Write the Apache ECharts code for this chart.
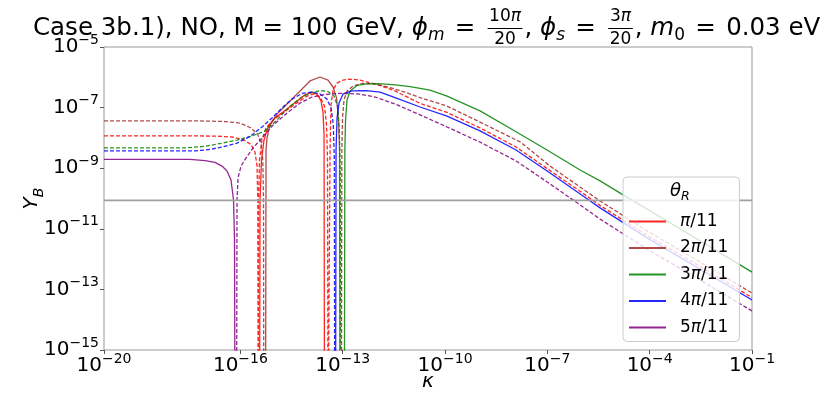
<!DOCTYPE html>
<html>
<head>
<meta charset="utf-8">
<title>Y_B vs kappa</title>
<script src="https://cdn.jsdelivr.net/npm/echarts@6.0.0/dist/echarts.min.js"></script>
<style>
  html, body { margin: 0; padding: 0; background: #fff; }
  #chart { width: 831px; height: 394px; }
</style>
</head>
<body>
<div id="chart"></div>
<script>
// values, stored as [log10(kappa), log10(Y_B)]
// a point at -18 is where the curve crosses zero (falls off the bottom)
var thetaNames = ['π/11', '2π/11', '3π/11', '4π/11', '5π/11'];
var colors = ['#ff0000', '#a52a2a', '#008000', '#0000ff', '#800080'];
var xTicks = [1e-20, 1e-16, 1e-13, 1e-10, 1e-7, 1e-4, 1e-1];
var yTicks = [1e-15, 1e-13, 1e-11, 1e-9, 1e-7, 1e-5];
var yObserved = 8.7e-11;

var redSolid = [[-15.44,-18],[-15.425,-10.05],[-15.381,-8.73],[-15.308,-8.07],[-15.191,-7.64],[-14.985,-7.34],[-14.633,-7.05],[-14.34,-6.78],[-14.106,-6.58],[-13.90,-6.50],[-13.754,-6.55],[-13.636,-6.78],[-13.578,-7.15],[-13.548,-7.90],[-13.534,-18]];
var brownSolid = [[-15.264,-18],[-15.249,-8.40],[-15.22,-8.00],[-15.132,-7.57],[-14.927,-7.21],[-14.633,-6.88],[-14.252,-6.45],[-13.959,-6.12],[-13.666,-5.99],[-13.431,-6.09],[-13.284,-6.32],[-13.182,-6.68],[-13.123,-7.41],[-13.094,-8.40],[-13.079,-18]];
var greenSolid = [[-12.953,-18],[-12.938,-8.40],[-12.918,-7.41],[-12.874,-6.75],[-12.786,-6.45],[-12.581,-6.27],[-12.287,-6.22],[-11.994,-6.21],[-11.525,-6.24],[-11.026,-6.31],[-10.44,-6.42],[-9.941,-6.62],[-8.974,-7.11],[-8.006,-7.74],[-7.009,-8.40],[-6.041,-9.06],[-5.455,-9.42],[-4.78,-9.88],[-3.988,-10.41],[-2.522,-11.40],[-1.0,-12.43]];
var blueSolid = [[-13.211,-18],[-13.196,-8.40],[-13.167,-7.34],[-13.109,-6.85],[-12.991,-6.55],[-12.727,-6.45],[-12.317,-6.44],[-11.906,-6.49],[-11.466,-6.67],[-10.733,-6.98],[-9.941,-7.28],[-8.974,-7.77],[-7.918,-8.40],[-6.921,-9.16],[-5.953,-9.92],[-5.455,-10.31],[-4.076,-11.30],[-2.522,-12.33],[-1.0,-13.35]];
var purpleSolid = [[-20,-8.71],[-18.651,-8.71],[-17.478,-8.71],[-17.038,-8.75],[-16.745,-8.81],[-16.54,-8.93],[-16.393,-9.09],[-16.276,-9.39],[-16.202,-10.05],[-16.173,-11.37],[-16.158,-18]];

var redDashed = [[-20,-7.93],[-17.771,-7.93],[-16.745,-7.94],[-16.246,-7.97],[-15.894,-8.07],[-15.689,-8.22],[-15.572,-8.47],[-15.513,-8.93],[-15.49,-10.05],[-15.478,-18],
  [-15.466,-10.05],[-15.44,-8.73],[-15.367,-8.07],[-15.249,-7.67],[-15.015,-7.38],[-14.633,-7.08],[-14.311,-6.82],[-14.047,-6.62],[-13.842,-6.55],[-13.666,-6.65],[-13.534,-6.95],[-13.475,-7.57],[-13.446,-8.73],[-13.431,-18],
  [-13.387,-18],[-13.372,-8.40],[-13.343,-6.91],[-13.284,-6.42],[-13.167,-6.19],[-12.991,-6.09],[-12.786,-6.06],[-12.493,-6.09],[-11.994,-6.24],[-11.466,-6.45],[-10.733,-6.86],[-9.941,-7.16],[-8.974,-7.67],[-7.918,-8.30],[-6.921,-9.08],[-5.953,-9.83],[-5.455,-10.23],[-4.076,-11.22],[-2.522,-12.24],[-1.0,-13.27]];
var brownDashed = [[-20,-7.44],[-17.185,-7.44],[-16.452,-7.46],[-16.012,-7.51],[-15.689,-7.67],[-15.499,-7.87],[-15.396,-8.17],[-15.343,-8.73],[-15.323,-10.05],[-15.314,-18],
  null,
  [-13.041,-18],[-13.026,-8.40],[-13.006,-7.34],[-12.962,-6.75],[-12.874,-6.45],[-12.698,-6.29],[-12.434,-6.20],[-12.053,-6.22],[-11.613,-6.34],[-11.173,-6.49],[-10.733,-6.67],[-9.941,-6.95],[-8.974,-7.48],[-7.801,-8.13],[-6.921,-8.93],[-5.953,-9.69],[-5.455,-10.08],[-4.076,-11.07],[-2.522,-12.10],[-1.0,-13.12]];
var greenDashed = [[-20,-8.33],[-17.625,-8.33],[-17.038,-8.28],[-16.569,-8.18],[-16.10,-8.07],[-15.689,-7.95],[-15.279,-7.77],[-14.927,-7.41],[-14.575,-6.98],[-14.194,-6.65],[-13.90,-6.49],[-13.666,-6.44],[-13.431,-6.47],[-13.255,-6.62],[-13.152,-6.95],[-13.10,-7.74],[-13.073,-9.06],[-13.062,-18]];
var blueDashed = [[-20,-8.43],[-17.331,-8.43],[-16.891,-8.38],[-16.54,-8.30],[-16.10,-8.17],[-15.718,-7.95],[-15.367,-7.64],[-15.073,-7.34],[-14.78,-7.01],[-14.487,-6.72],[-14.194,-6.53],[-13.93,-6.49],[-13.666,-6.55],[-13.46,-6.72],[-13.343,-7.01],[-13.276,-7.57],[-13.246,-8.73],[-13.235,-18]];
var purpleDashed = [[-16.114,-18],[-16.10,-10.05],[-16.07,-9.32],[-15.982,-8.93],[-15.836,-8.66],[-15.63,-8.33],[-15.367,-8.00],[-15.073,-7.61],[-14.633,-7.18],[-14.252,-6.85],[-13.90,-6.65],[-13.519,-6.57],[-13.079,-6.53],[-12.551,-6.55],[-12.053,-6.65],[-11.466,-6.88],[-10.733,-7.24],[-9.941,-7.64],[-8.974,-8.14],[-7.918,-8.76],[-6.921,-9.52],[-5.953,-10.28],[-5.455,-10.68],[-4.076,-11.67],[-2.522,-12.69],[-1.0,-13.71]];

var solidCurves = [redSolid, brownSolid, greenSolid, blueSolid, purpleSolid];
var dashedCurves = [redDashed, brownDashed, greenDashed, blueDashed, purpleDashed];

var FONT = '"DejaVu Sans", sans-serif';

function toPoints(arr) {
    return arr.map(function (p) {
        return p ? [Math.pow(10, p[0]), Math.pow(10, p[1])] : ['-', '-'];
    });
}

// 10^n labels
function powLabel(v) {
    var e = Math.round(Math.log10(v));
    return '{b|10}{e|' + (e < 0 ? '\u2212' : '') + Math.abs(e) + '}';
}
var tickRich = {
    b: { fontFamily: FONT, fontSize: 20, lineHeight: 28, color: '#000' },
    e: { fontFamily: FONT, fontSize: 14, lineHeight: 14, verticalAlign: 'top', color: '#000' }
};

var series = [];
thetaNames.forEach(function (name, i) {
    series.push({
        name: name, type: 'line', data: toPoints(solidCurves[i]),
        symbol: 'none', connectNulls: false, z: 2,
        itemStyle: { color: colors[i] },
        lineStyle: { color: colors[i], width: 1.3, opacity: 0.85 }
    });
    series.push({
        name: name + ' dashed', type: 'line', data: toPoints(dashedCurves[i]),
        symbol: 'none', connectNulls: false, z: 2,
        itemStyle: { color: colors[i] },
        lineStyle: { color: colors[i], width: 1.3, opacity: 0.85, type: [4, 2] }
    });
});
// observed value line
series.push({
    name: 'observed', type: 'line', symbol: 'none', z: 3,
    data: [[xTicks[0], yObserved], [xTicks[xTicks.length - 1], yObserved]],
    lineStyle: { color: '#a0a0a0', width: 1.6 }
});

// title, laid out piece by piece (fractions stacked)
var measure = document.createElement('canvas').getContext('2d');
function textW(str, font) { measure.font = font; return measure.measureText(str).width; }
var titleEls = [];
var cx = 33;
var TS = 24.5, SS = 17;
function put(text, size, italic, baseline, x) {
    var font = (italic ? 'italic ' : '') + size + 'px ' + FONT;
    titleEls.push({
        type: 'text', x: x, y: baseline - 0.35 * size,
        style: { text: text, font: font, fill: '#000', verticalAlign: 'middle' }
    });
    return textW(text, font);
}
function run(text, size, italic, baseline) { cx += put(text, size, italic, baseline, cx); }
function gap(px) { cx += px; }
function frac(num, den) {
    var numW = 0;
    num.forEach(function (p) { numW += textW(p[0], (p[1] ? 'italic ' : '') + SS + 'px ' + FONT); });
    var denW = textW(den, SS + 'px ' + FONT);
    var width = Math.max(numW, denW) + 3;
    var x0 = cx + 2;
    var nx = x0 + (width - numW) / 2;
    num.forEach(function (p) { nx += put(p[0], SS, p[1], 23, nx); });
    titleEls.push({ type: 'line', shape: { x1: x0, y1: 28.5, x2: x0 + width, y2: 28.5 }, style: { stroke: '#000', lineWidth: 1 } });
    put(den, SS, false, 46, x0 + (width - denW) / 2);
    cx = x0 + width + 2;
}
run('Case 3b.1), NO, M = 100 GeV, ', TS, false, 37);
run('\u03d5', TS, true, 37);
run('m', SS, true, 42);
gap(2.5); run(' = ', TS, false, 37); gap(2.5);
frac([['10', false], ['\u03c0', true]], '20');
run(', ', TS, false, 37);
run('\u03d5', TS, true, 37);
run('s', SS, true, 42);
gap(2.5); run(' = ', TS, false, 37); gap(2.5);
frac([['3', false], ['\u03c0', true]], '20');
run(', ', TS, false, 37);
run('m', TS, true, 37);
run('0', SS, false, 42);
gap(2.5); run(' = ', TS, false, 37); gap(2.5);
run('0.03 eV', TS, false, 37);

// legend title theta_R
var thX = 670;
titleEls.push({ type: 'text', z: 100, x: thX, y: 198 - 0.35 * 18, style: { text: '\u03b8', font: 'italic 18px ' + FONT, fill: '#000', verticalAlign: 'middle' } });
thX += textW('\u03b8', 'italic 18px ' + FONT);
titleEls.push({ type: 'text', z: 100, x: thX, y: 201 - 0.35 * 12.6, style: { text: 'R', font: 'italic 12.6px ' + FONT, fill: '#000', verticalAlign: 'middle' } });

var myChart = echarts.init(document.getElementById('chart'));
var option = {
    animation: false,
    backgroundColor: '#fff',
    grid: {
        left: 104, right: 79, top: 47, bottom: 44, show: true,
        outerBoundsMode: 'none', containLabel: false,
        borderColor: '#999', borderWidth: 1, backgroundColor: 'transparent'
    },
    xAxis: {
        type: 'log', logBase: 10, min: 1e-20, max: 1e-1,
        axisLine: { show: false },
        axisTick: { show: true, customValues: xTicks, length: 4, lineStyle: { color: '#555' } },
        axisLabel: { customValues: xTicks, formatter: powLabel, rich: tickRich, margin: 2 },
        splitLine: { show: false },
        name: '\u03ba', nameLocation: 'middle', nameGap: 22, nameMoveOverlap: false,
        nameTextStyle: { fontFamily: FONT, fontStyle: 'italic', fontSize: 20, color: '#000' }
    },
    yAxis: {
        type: 'log', logBase: 10, min: 1e-15, max: 1e-5,
        axisLine: { show: false },
        axisTick: { show: true, customValues: yTicks, length: 4, lineStyle: { color: '#555' } },
        axisLabel: { customValues: yTicks, formatter: powLabel, rich: tickRich, margin: 5 },
        splitLine: { show: false },
        name: '{i|Y}{s|B}', nameLocation: 'middle', nameGap: 58, nameRotate: 90, nameMoveOverlap: false,
        nameTextStyle: {
            rich: {
                i: { fontFamily: FONT, fontStyle: 'italic', fontSize: 20, lineHeight: 28, color: '#000' },
                s: { fontFamily: FONT, fontStyle: 'italic', fontSize: 14, lineHeight: 14, verticalAlign: 'bottom', color: '#000' }
            }
        }
    },
    legend: {
        data: thetaNames.map(function (n) { return { name: n, icon: 'rect' }; }),
        orient: 'vertical',
        left: 623, top: 177,
        padding: [34.5, 11, 4, 6],
        itemWidth: 37, itemHeight: 2, itemGap: 6.5,
        itemStyle: { opacity: 0.85 },
        backgroundColor: 'rgba(255,255,255,0.8)',
        borderColor: '#cccccc', borderWidth: 1, borderRadius: 4,
        selectedMode: false, z: 10,
        formatter: function (n) { return n.replace('π', '{i|π}'); },
        textStyle: {
            fontFamily: FONT, fontSize: 17, color: '#000', lineHeight: 20, padding: [0, 0, 0, 9],
            rich: { i: { fontFamily: FONT, fontStyle: 'italic', fontSize: 17, lineHeight: 20, color: '#000' } }
        }
    },
    graphic: titleEls,
    series: series
};
myChart.setOption(option);
</script>
</body>
</html>
